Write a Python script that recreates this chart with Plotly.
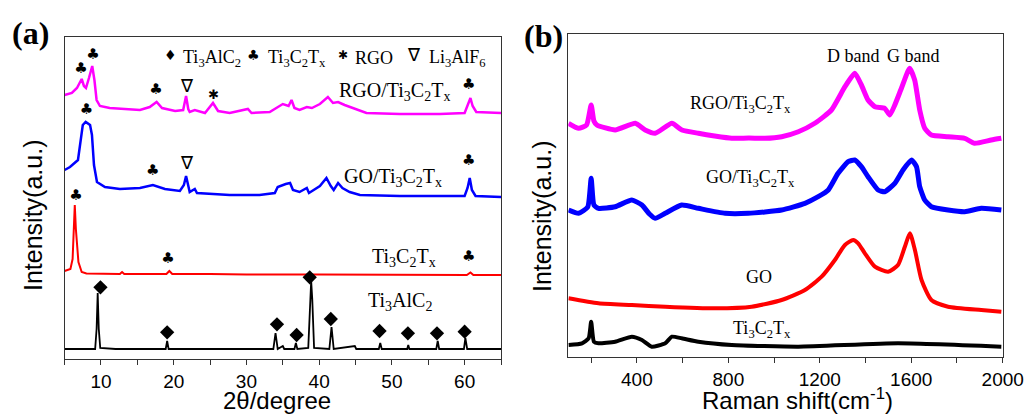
import plotly.graph_objects as go

# ---------------- Panel (a): XRD patterns (2theta in degree, intensity a.u.) ----------------
xrd_ti3alc2_x = [5, 9.2, 9.4, 9.55, 9.7, 9.9, 12, 18.9, 19.1, 19.3, 33.7, 34.0, 34.3, 35.0, 35.2,
                 36.6, 36.8, 37.0, 38.5, 38.75, 38.9, 39.05, 39.3, 41.4, 41.7, 42.0, 44.9, 45.1,
                 48.2, 48.4, 48.6, 52.1, 52.25, 52.4, 56.1, 56.3, 56.5, 59.9, 60.1, 60.35, 65]
xrd_ti3alc2_y = [10, 10, 30, 66, 30, 11, 10, 10, 18, 10, 10, 26, 10, 13, 10,
                 10, 16, 10, 11, 60, 78, 60, 11, 10, 32, 10, 13, 10,
                 10, 16, 10, 10, 14, 10, 10, 18, 10, 10, 21, 10, 10]

xrd_ti3c2tx_x = [5, 5.8, 6.1, 6.25, 6.4, 6.55, 6.75, 6.9, 7.35, 8.0, 12.6, 12.9, 13.2, 19.0, 19.4,
                 19.8, 25, 30, 40, 50, 60.3, 60.8, 61.2, 65]
xrd_ti3c2tx_y = [88, 90, 100, 130, 154, 130, 105, 97, 87, 85.5, 85, 87, 85, 85, 88,
                 85, 85, 84.5, 84.5, 84, 84, 86.5, 84, 84]

xrd_go_x = [5, 5.74, 6.84, 7.25, 7.5, 7.9, 8.5, 8.76, 9.04, 9.45, 10.55, 12.6, 15.36, 17.14, 18.8,
            20.85, 21.4, 21.7, 21.95, 22.2, 22.9, 23.2, 27.7, 31.8, 33.9, 34.3, 35.4, 36.0, 36.4,
            37.3, 38.3, 38.6, 40.1, 41.0, 41.6, 42.0, 42.6, 43.2, 44.2, 45.6, 51.1, 56.6, 60.0,
            60.4, 60.7, 61.0, 61.5, 65]
xrd_go_y = [189, 192, 199, 224, 234, 237, 234, 224, 194, 177, 172, 170, 171, 174, 170,
            168, 174, 183, 173, 167, 170, 166, 164, 164, 166, 172, 175, 176, 169,
            167, 171, 166, 173, 181, 173, 169, 176, 171, 167, 164, 163, 163, 163,
            171, 181, 169, 163, 162]

xrd_rgo_x = [5, 6.0, 6.7, 7.35, 7.66, 7.94, 8.35, 8.8, 9.1, 9.4, 9.86, 11.2, 15.36, 16.7, 17.65,
             18.4, 20.2, 21.3, 21.7, 22.0, 22.2, 22.9, 24.3, 25.4, 26.1, 27.7, 30.2, 30.7, 33.2,
             35.0, 35.8, 36.2, 36.6, 37.3, 38.3, 39.0, 40.1, 41.2, 41.9, 42.6, 43.5, 44.9, 46.5,
             51.1, 56.6, 60.0, 60.4, 60.8, 61.1, 61.6, 65]
xrd_rgo_y = [264, 266, 271, 280, 273, 271, 281, 293, 279, 259, 253, 251, 249, 252, 257,
             251, 248, 249, 263, 250, 247, 249, 246, 256, 248, 246, 250, 246, 247,
             255, 253, 259, 251, 249, 252, 251, 255, 262, 256, 257, 254, 250, 246,
             245, 245, 246, 253, 261, 253, 247, 246]

# peak indicators (position of the glyph, in data units)
club_x = [7.26, 8.9, 17.56, 60.55, 8.0, 17.1, 60.55, 6.57, 19.2, 60.55]
club_y = [290, 304, 269, 274, 249, 188, 198, 163, 100, 102]
nabla_x = [21.8, 21.8]
nabla_y = [272, 195]
star_x = [25.5]
star_y = [263]
diamond_x = [9.93, 19.1, 34.2, 36.9, 38.7, 41.6, 48.3, 52.2, 56.2, 60.0]
diamond_y = [71.7, 26.7, 34.7, 24, 81.7, 40, 28, 25.7, 25.7, 27.3]

# ---------------- Panel (b): Raman spectra (cm-1, intensity a.u.) ----------------
raman_rgo_x = [101, 145, 180, 200, 212, 225, 305, 393, 436, 480, 553, 597, 669, 740, 815, 890, 960,
               1033, 1106, 1180, 1251, 1310, 1353, 1382, 1411, 1441, 1484, 1506, 1528, 1557, 1593,
               1615, 1637, 1659, 1688, 1761, 1834, 1877, 1950, 1994]
raman_rgo_y = [233.7, 228.7, 232, 252, 236, 232, 227, 233.7, 227, 223.7, 233.7, 227, 223.7, 221,
               218.7, 219, 218.7, 220.3, 225.3, 234, 247, 270.3, 283.7, 272, 257, 250.3, 248.7,
               242, 252, 268.7, 288.7, 277, 247, 228.7, 222, 220.3, 218.7, 213.7, 217, 218.7]

raman_go_ti_x = [101, 145, 185, 200, 212, 232, 305, 378, 422, 455, 480, 524, 596, 669, 786, 887,
                 1033, 1135, 1193, 1237, 1280, 1324, 1353, 1382, 1411, 1455, 1484, 1528, 1564,
                 1601, 1623, 1637, 1659, 1688, 1761, 1834, 1906, 1994]
raman_go_ti_y = [147, 143.7, 150, 178.7, 152, 148.7, 150.3, 157, 152, 143, 138.7, 143.7, 152,
                 148.7, 143.7, 143.7, 147, 153.7, 160.3, 167, 183.7, 195.3, 197, 190.3, 180.3,
                 167, 165.3, 173.7, 187, 197, 190.3, 170.3, 157, 150.3, 147, 145.3, 148.7, 147]

raman_go_x = [101, 232, 378, 524, 742, 902, 1033, 1135, 1208, 1266, 1310, 1346, 1368, 1397, 1441,
              1499, 1542, 1572, 1594, 1616, 1645, 1688, 1761, 1906, 1994]
raman_go_y = [58.7, 53.7, 52, 50.3, 48.7, 50.3, 57, 67, 80.3, 97, 112, 117, 113.7, 103.7, 90.3,
              85.3, 92, 110.3, 123.7, 107, 77, 57, 50.3, 47, 45.3]

raman_ti_x = [101, 160, 189, 200, 212, 232, 305, 378, 422, 465, 524, 553, 596, 669, 815, 1106,
              1542, 1994]
raman_ti_y = [12, 13.7, 18.7, 35.3, 15.3, 13.7, 15.3, 20.3, 17, 10.3, 13.7, 20.3, 18.7, 15.3, 12,
              10.3, 13.7, 10.3]

SERIF = "Liberation Serif"
SANS = "Liberation Sans"
TI3C2TX = "Ti<sub>3</sub>C<sub>2</sub>T<sub>x</sub>"

fig = go.Figure()

# panel (a) curves
fig.add_trace(go.Scatter(x=xrd_ti3alc2_x, y=xrd_ti3alc2_y, mode="lines",
                         line=dict(color="black", width=1.8), xaxis="x", yaxis="y"))
fig.add_trace(go.Scatter(x=xrd_ti3c2tx_x, y=xrd_ti3c2tx_y, mode="lines",
                         line=dict(color="#ff0000", width=2), xaxis="x", yaxis="y"))
fig.add_trace(go.Scatter(x=xrd_go_x, y=xrd_go_y, mode="lines",
                         line=dict(color="#0000ff", width=2.5), xaxis="x", yaxis="y"))
fig.add_trace(go.Scatter(x=xrd_rgo_x, y=xrd_rgo_y, mode="lines",
                         line=dict(color="#ff00ff", width=2.5), xaxis="x", yaxis="y"))

# peak indicators
fig.add_trace(go.Scatter(x=club_x, y=club_y, mode="text", text=["♣"] * len(club_x),
                         textfont=dict(family="DejaVu Sans", size=15, color="black"),
                         xaxis="x", yaxis="y"))
fig.add_trace(go.Scatter(x=nabla_x, y=nabla_y, mode="text", text=["∇"] * len(nabla_x),
                         textfont=dict(family=SERIF, size=18, color="black"),
                         xaxis="x", yaxis="y"))
fig.add_trace(go.Scatter(x=star_x, y=star_y, mode="text", text=["✱"] * len(star_x),
                         textfont=dict(family="DejaVu Sans", size=13, color="black"),
                         xaxis="x", yaxis="y"))
fig.add_trace(go.Scatter(x=diamond_x, y=diamond_y, mode="markers",
                         marker=dict(symbol="diamond", size=11, color="black"),
                         xaxis="x", yaxis="y"))

# panel (b) curves
fig.add_trace(go.Scatter(x=raman_ti_x, y=raman_ti_y, mode="lines",
                         line=dict(color="black", width=4, shape="spline", smoothing=0.5),
                         xaxis="x2", yaxis="y2"))
fig.add_trace(go.Scatter(x=raman_go_x, y=raman_go_y, mode="lines",
                         line=dict(color="#ff0000", width=4, shape="spline", smoothing=0.6),
                         xaxis="x2", yaxis="y2"))
fig.add_trace(go.Scatter(x=raman_go_ti_x, y=raman_go_ti_y, mode="lines",
                         line=dict(color="#0000ff", width=5, shape="spline", smoothing=0.5),
                         xaxis="x2", yaxis="y2"))
fig.add_trace(go.Scatter(x=raman_rgo_x, y=raman_rgo_y, mode="lines",
                         line=dict(color="#ff00ff", width=5, shape="spline", smoothing=0.5),
                         xaxis="x2", yaxis="y2"))

ann = []
# panel (a) legend row
legend_items = [("♦", 19.5, "Ti<sub>3</sub>AlC<sub>2</sub>", 21.0, "DejaVu Sans", 14),
                ("♣", 31.0, TI3C2TX, 32.7, "DejaVu Sans", 14),
                ("✱", 43.3, "RGO", 44.7, "DejaVu Sans", 12),
                ("∇", 53.1, "Li<sub>3</sub>AlF<sub>6</sub>", 54.8, SERIF, 18)]
for sym, sx, txt, tx, fam, fs in legend_items:
    ann.append(dict(x=sx, y=304, xref="x", yref="y", text=sym, showarrow=False,
                    xanchor="center", yanchor="middle",
                    font=dict(family=fam, size=fs, color="black")))
    ann.append(dict(x=tx, y=304, xref="x", yref="y", text=txt, showarrow=False, xanchor="left",
                    yanchor="middle", yshift=-3, font=dict(family=SERIF, size=18, color="black")))

# panel (a) sample labels
for txt, x, y in [("RGO/" + TI3C2TX, 50.4, 271), ("GO/" + TI3C2TX, 50.1, 185),
                  (TI3C2TX, 51.6, 105), ("Ti<sub>3</sub>AlC<sub>2</sub>", 51.1, 61)]:
    ann.append(dict(x=x, y=y, xref="x", yref="y", text=txt, showarrow=False, yshift=-3,
                    xanchor="center", yanchor="middle",
                    font=dict(family=SERIF, size=20, color="black")))

# panel (b) labels
for txt, x, y in [("D band", 1349, 301), ("G band", 1611, 301),
                  ("RGO/" + TI3C2TX, 855, 256), ("GO/" + TI3C2TX, 895, 182),
                  ("GO", 934, 80), (TI3C2TX, 947, 31)]:
    ann.append(dict(x=x, y=y, xref="x2", yref="y2", text=txt, showarrow=False,
                    xanchor="center", yanchor="middle",
                    yshift=(0 if "sub" not in txt else -3),
                    font=dict(family=SERIF, size=18, color="black")))

# panel letters and axis titles (paper coordinates)
def paper_text(px, py, text, size, family, angle=0, yanchor="middle"):
    return dict(x=px / 1025, y=1 - py / 416, xref="paper", yref="paper", text=text,
                textangle=angle, showarrow=False, xanchor="center", yanchor=yanchor,
                font=dict(family=family, size=size, color="black"))

ann.append(paper_text(30, 33, "<b>(a)</b>", 32, SERIF))
ann.append(paper_text(543, 36, "<b>(b)</b>", 32, SERIF))
ann.append(paper_text(33, 216, "Intensity(a.u.)", 25, SANS, -90))
ann.append(paper_text(542, 217, "Intensity(a.u.)", 25, SANS, -90))
ann.append(paper_text(277, 416, "2θ/degree", 24, SANS, yanchor="bottom"))
ann.append(paper_text(797, 416, "Raman shift(cm<sup>-1</sup>)", 24, SANS, yanchor="bottom"))

axis_common = dict(showline=True, linecolor="#333333", linewidth=1, mirror=True,
                   showgrid=False, zeroline=False, automargin=False)

fig.update_layout(
    width=1025, height=416, autosize=False,
    margin=dict(l=0, r=0, t=0, b=0, autoexpand=False),
    paper_bgcolor="white", plot_bgcolor="white",
    showlegend=False,
    xaxis=dict(domain=[64.6 / 1025, 501 / 1025], range=[5, 65], tickvals=[10, 20, 30, 40, 50, 60],
               ticks="outside", ticklen=5, tickcolor="#333333",
               minor=dict(tickvals=[5, 15, 25, 35, 45, 55, 65], ticks="outside", ticklen=5,
                          tickcolor="#333333"),
               tickfont=dict(family=SANS, size=19, color="black"), anchor="y", **axis_common),
    yaxis=dict(domain=[1 - 359 / 416, 1 - 37 / 416], range=[0, 322], showticklabels=False,
               ticks="", anchor="x", **axis_common),
    xaxis2=dict(domain=[568.3 / 1025, 1002.7 / 1025], range=[100, 2000],
                tickvals=[400, 800, 1200, 1600, 2000],
                ticks="outside", ticklen=5, tickcolor="#333333",
                minor=dict(tickvals=[200, 600, 1000, 1400, 1800], ticks="outside", ticklen=5,
                           tickcolor="#333333"),
                tickfont=dict(family=SANS, size=19, color="black"), anchor="y2", **axis_common),
    yaxis2=dict(domain=[1 - 357 / 416, 1 - 34 / 416], range=[0, 323], showticklabels=False,
                ticks="", anchor="x2", **axis_common),
    annotations=ann,
)

fig.write_html("out.html", config={"responsive": False})
